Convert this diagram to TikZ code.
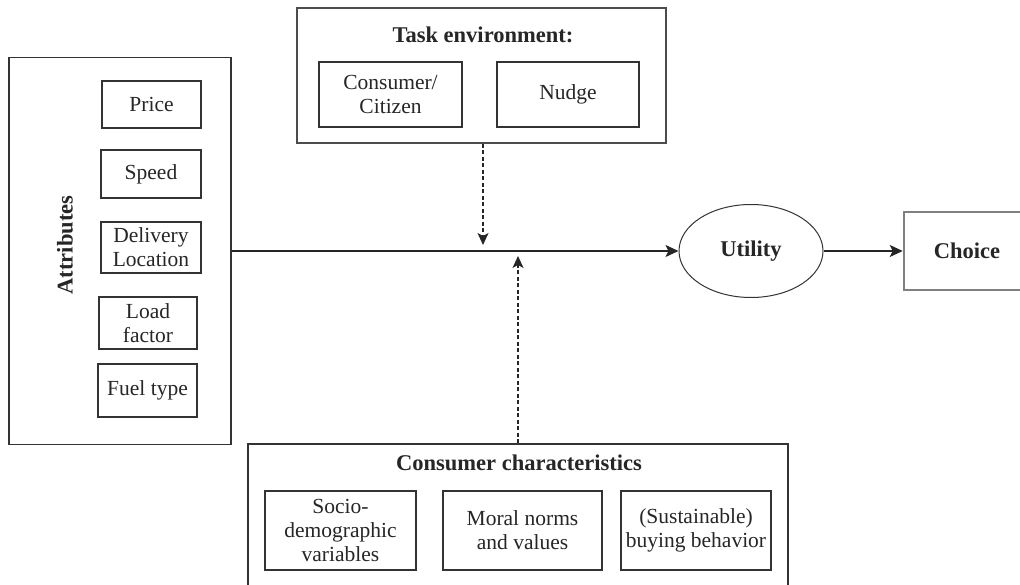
\documentclass[tikz,border=0pt]{standalone}
\usepackage{fontspec}
\setmainfont{Liberation Serif}
\usetikzlibrary{arrows.meta,shapes.geometric}
\begin{document}
\begin{tikzpicture}[x=1pt,y=-1pt,
  frame/.style={draw=black!80,line width=1.4pt,inner sep=0pt},
  box/.style={draw=black!80,line width=1.3pt,inner sep=0pt,align=center,
    font=\fontsize{21.5}{24}\selectfont,text=black!85},
  ttl/.style={inner sep=0pt,font=\fontsize{22.5}{26}\selectfont\bfseries,text=black!85},
  arr/.style={draw=black!85,line width=1.4pt,-{Stealth[length=13pt,width=12pt,inset=3pt]}},
  dasharr/.style={draw=black!85,line width=1.2pt,dash pattern=on 4pt off 2.5pt,
    -{Stealth[length=12pt,width=11pt,inset=3pt]}}]
\clip (0,0) rectangle (1020,585);
\fill[white] (0,0) rectangle (1020,585);

% Attributes
\node[frame,minimum width=222pt,minimum height=387pt] (attr) at (120,251) {};
\node[ttl,rotate=90] (attrlbl) at (65,245) {Attributes};
\node[box,minimum width=99pt,minimum height=47pt] (price) at (151.5,104.5) {Price};
\node[box,minimum width=100pt,minimum height=48pt] (speed) at (151,174) {Speed};
\node[box,minimum width=100pt,minimum height=51pt] (deliv) at (151,247.5) {Delivery\\Location};
\node[box,minimum width=98pt,minimum height=52pt] (load) at (148,323) {Load\\factor};
\node[box,minimum width=99pt,minimum height=53pt] (fuel) at (147.5,390.5) {Fuel type};

% Task environment
\node[frame,draw=black!70,line width=1.8pt,minimum width=369pt,minimum height=135pt] (task) at (481.5,75.5) {};
\node[ttl] (tasklbl) at (483,35) {Task environment:};
\node[box,minimum width=143pt,minimum height=65pt] (citizen) at (390.5,94.5) {Consumer/\\Citizen};
\node[box,minimum width=142pt,minimum height=65pt] (nudge) at (568,94.5) {Nudge};

% Consumer characteristics
\node[frame,minimum width=540pt,minimum height=150pt] (cons) at (518,519) {};
\node[ttl] (conslbl) at (519,463) {Consumer characteristics};
\node[box,minimum width=151pt,minimum height=79pt] (socio) at (340.5,530.5) {Socio-\\demographic\\variables};
\node[box,minimum width=159pt,minimum height=79pt] (moral) at (522.5,530.5) {Moral norms\\and values};
\node[box,minimum width=150pt,minimum height=79pt] (sust) at (696,530.5) {(Sustainable)\\buying behavior};

% Utility and Choice
\node[ellipse,draw=black!80,line width=1pt,inner sep=0pt,minimum width=144pt,minimum height=93pt,
  font=\fontsize{22.5}{26}\selectfont\bfseries,text=black!85] (util) at (751,251) {Utility};
\node[draw=black!50,line width=2.5pt,inner sep=0pt,minimum width=126pt,minimum height=78pt,
  font=\fontsize{22.5}{26}\selectfont\bfseries,text=black!85] (choice) at (967,251) {Choice};

% Connectors
\draw[arr] (attr.east) -- (util.west);
\draw[arr] (util.east) -- (choice.west);
\coordinate (dn) at (483,245);
\coordinate (up) at (518,256);
\draw[dasharr] (task.south -| dn) -- (dn);
\draw[dasharr] (cons.north -| up) -- (up);
\end{tikzpicture}
\end{document}
